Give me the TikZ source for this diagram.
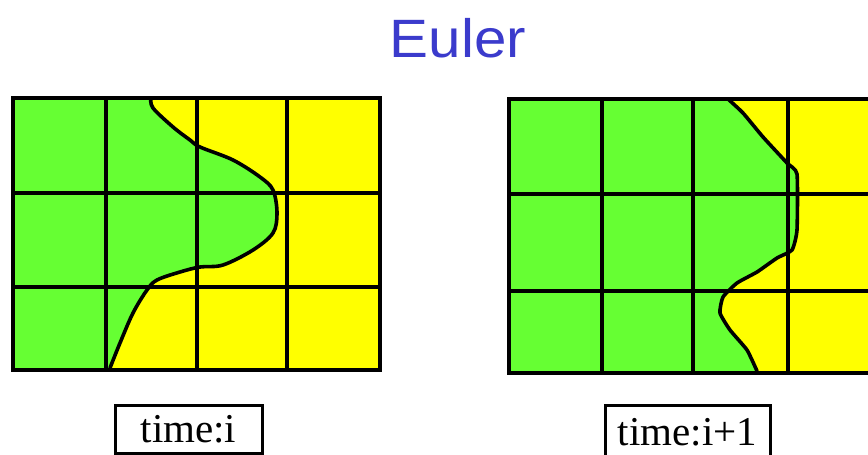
\documentclass[tikz,border=0pt]{standalone}
\usepackage{fontspec}
\setmainfont{Liberation Serif}
\newfontfamily\eulerfont{Liberation Sans}
\definecolor{cgreen}{RGB}{102,255,51}
\definecolor{cyellow}{RGB}{255,255,0}
\definecolor{ctitle}{RGB}{59,59,204}
\tikzset{
  gridline/.style={line width=3.8pt, line cap=rect},
  front/.style={line width=3.6pt, line join=round, line cap=round},
  timebox/.style={draw, line width=3pt, inner sep=0pt, font=\fontsize{41}{44}\selectfont},
}
\begin{document}
\begin{tikzpicture}[x=1pt,y=-1pt]
\useasboundingbox (0,0) rectangle (868,455);
\clip (0,0) rectangle (868,455);
\fill[white] (0,0) rectangle (868,455);

% ---------------- left grid (time i)
\fill[cyellow] (13,98) rectangle (380,370);
\fill[cgreen] (13,98) -- (151,98) -- plot[smooth, tension=0.55] coordinates {
  (151,98) (153,108) (173,127) (190,140) (200,147) (233,160) (260,177) (273,190)
  (277,213) (273,233) (253,250) (223,265) (200,267) (180,272) (157,280) (147,290)
  (133,313) (120,343) (110,368)} -- (106,370) -- (13,370) -- cycle;
\draw[front] plot[smooth, tension=0.55] coordinates {
  (151,98) (153,108) (173,127) (190,140) (200,147) (233,160) (260,177) (273,190)
  (277,213) (273,233) (253,250) (223,265) (200,267) (180,272) (157,280) (147,290)
  (133,313) (120,343) (110,368)};
\draw[gridline] (13,98) rectangle (380,370);
\draw[gridline] (106,98) -- (106,370) (197,98) -- (197,370) (287,98) -- (287,370);
\draw[gridline] (13,193) -- (380,193) (13,287) -- (380,287);

% ---------------- right grid (time i+1)
\fill[cyellow] (509,99) rectangle (868,373);
\fill[cgreen] (509,99) -- (728,99) -- plot[smooth, tension=0.3] coordinates {
  (728,99) (743,113) (763,137) (787,163) (797,174) (797,230) (792,250) (777,258)
  (757,272) (737,283) (723,297) (720,313) (730,330) (747,350) (757,371)}
  -- (757,373) -- (509,373) -- cycle;
\draw[front] plot[smooth, tension=0.3] coordinates {
  (728,99) (743,113) (763,137) (787,163) (797,174) (797,230) (792,250) (777,258)
  (757,272) (737,283) (723,297) (720,313) (730,330) (747,350) (757,371)};
\draw[gridline] (870,99) -- (509,99) -- (509,373) -- (870,373);
\draw[gridline] (602,99) -- (602,373) (693,99) -- (693,373) (788,99) -- (788,373);
\draw[gridline] (509,194) -- (870,194) (509,291) -- (870,291);

% ---------------- labels
\node[font=\eulerfont\fontsize{54}{60}\selectfont, text=ctitle, xscale=1.08,
  anchor=base] (title) at (458,57) {Euler};
\node[timebox, minimum width=147pt, minimum height=48pt] (ti) at (188.5,429) {time:i};
\node[timebox, minimum width=165pt, minimum height=54pt] (tj) at (687.5,432) {time:i+1};
\end{tikzpicture}
\end{document}
